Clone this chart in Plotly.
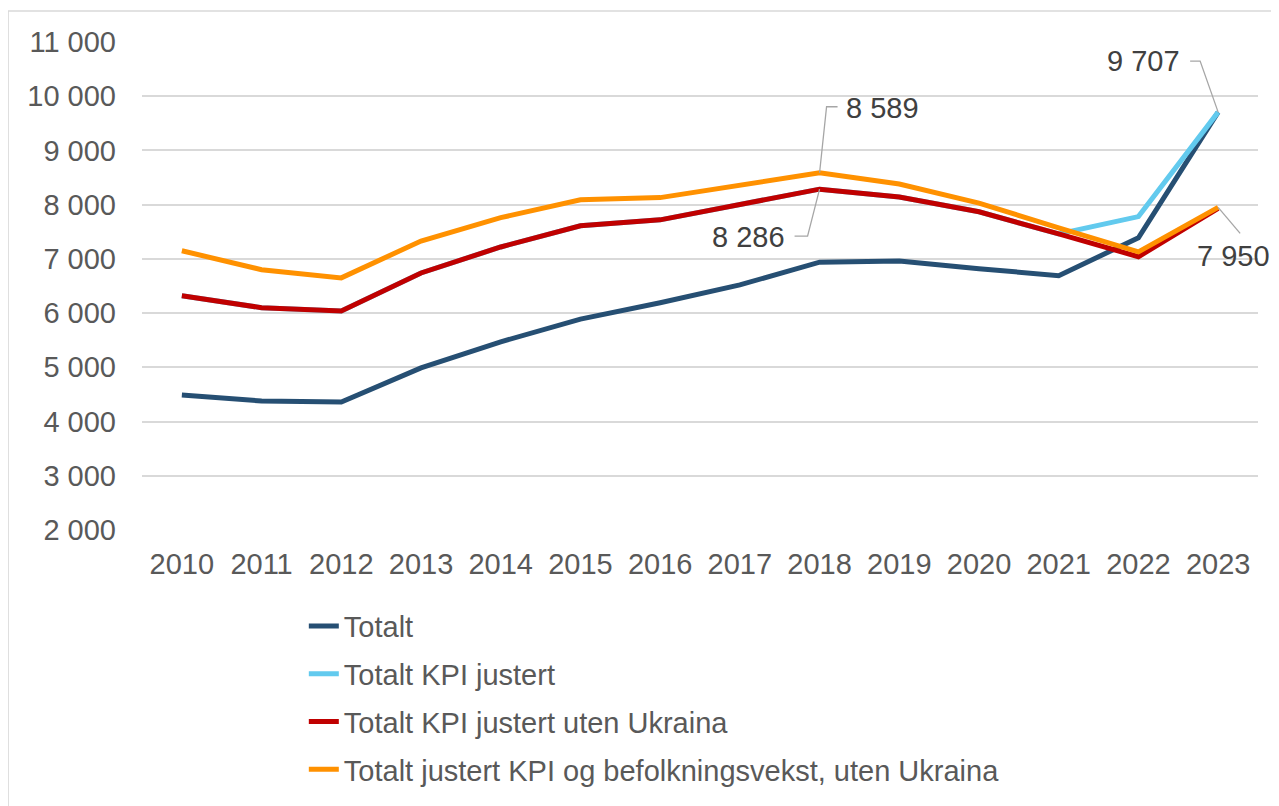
import plotly.graph_objects as go

NAVY = "#264F73"
SKY = "#62CAEE"
RED = "#C00000"
ORANGE = "#FF9100"
GRID = "#D9D9D9"
TEXT = "#595959"
LEADER = "#A6A6A6"

years = list(range(2010, 2024))

totalt = [4490, 4380, 4360, 4990, 5470, 5890, 6190, 6520, 6940, 6960, 6820, 6690, 7390, 9707]
kpi_justert = [6320, 6100, 6040, 6740, 7220, 7610, 7720, 8010, 8286, 8140, 7870, 7460, 7780, 9707]
kpi_uten_ukraina = [6320, 6100, 6040, 6740, 7220, 7610, 7720, 8010, 8286, 8140, 7870, 7460, 7040, 7930]
kpi_befolkning = [7150, 6800, 6650, 7330, 7760, 8090, 8130, 8370, 8589, 8380, 8030, 7570, 7130, 7950]

series = [
    ("Totalt", totalt, NAVY),
    ("Totalt KPI justert", kpi_justert, SKY),
    ("Totalt KPI justert uten Ukraina", kpi_uten_ukraina, RED),
    ("Totalt justert KPI og befolkningsvekst, uten Ukraina", kpi_befolkning, ORANGE),
]


def nb(v):
    return f"{v:,}".replace(",", " ")


fig = go.Figure()
for i, (name, vals, color) in enumerate(series):
    fig.add_trace(
        go.Scatter(
            x=years,
            y=vals,
            mode="lines",
            name=name,
            legendgroup=f"g{i}",
            line=dict(color=color, width=5),
        )
    )

# data labels: (year, value, text shift, leader path in pixels from the point, y up)
labels = [
    (2023, kpi_justert[-1], (-75, 51), "M0,0 L-18,51 L-28,51"),
    (2018, kpi_befolkning[8], (63, 65), "M0,0 L7,66 L18,66"),
    (2018, kpi_uten_ukraina[8], (-71, -48), "M0,0 L-12,-47 L-25,-47"),
    (2023, kpi_befolkning[-1], (15, -49), "M0,0 L22,-26"),
]
for x, v, (dx, dy), path in labels:
    fig.add_annotation(
        x=x,
        y=v,
        text=nb(v),
        showarrow=False,
        xshift=dx,
        yshift=dy,
        font=dict(size=29, color="#404040"),
    )
    fig.add_shape(
        type="path",
        xref="x",
        yref="y",
        xsizemode="pixel",
        ysizemode="pixel",
        xanchor=x,
        yanchor=v,
        path=path,
        line=dict(color=LEADER, width=1.3),
    )

# thin frame round the chart area
fig.add_shape(
    type="rect",
    xref="paper",
    yref="paper",
    x0=-0.12,
    x1=1.2,
    y0=-0.8,
    y1=1.0635,
    line=dict(color=GRID, width=1.5),
    fillcolor="rgba(0,0,0,0)",
    layer="below",
)

fig.update_layout(
    width=1271,
    height=798,
    margin=dict(l=134, r=21, t=34, b=276, autoexpand=False),
    paper_bgcolor="white",
    plot_bgcolor="white",
    separators=", ",
    font=dict(family="Liberation Sans, Arial, sans-serif", size=29, color=TEXT),
    showlegend=True,
    legend=dict(
        x=0.145,
        y=-0.145,
        xanchor="left",
        yanchor="top",
        orientation="v",
        tracegroupgap=7,
        font=dict(size=29, color=TEXT),
        bgcolor="rgba(0,0,0,0)",
    ),
    xaxis=dict(
        range=[2009.5, 2023.5],
        dtick=1,
        tickformat="d",
        showgrid=False,
        showline=False,
        zeroline=False,
        ticks="",
        ticklabelstandoff=14,
    ),
    yaxis=dict(
        range=[2000, 11000],
        dtick=1000,
        tickformat=",d",
        showgrid=True,
        gridcolor=GRID,
        gridwidth=1.5,
        zeroline=False,
        showline=False,
        ticks="",
        ticklabelstandoff=25,
    ),
)

fig.write_html("out.html")
